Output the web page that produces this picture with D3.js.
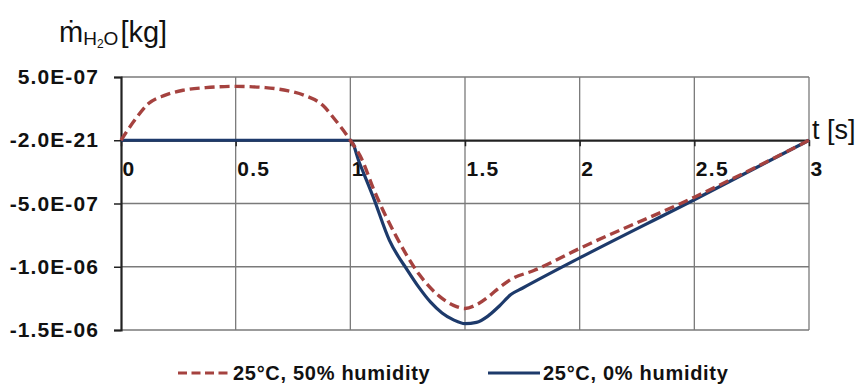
<!DOCTYPE html>
<html>
<head>
<meta charset="utf-8">
<script src="https://cdn.jsdelivr.net/npm/d3@7"></script>
<style>
body{margin:0;background:#fff;}
text{font-family:"Liberation Sans",Arial,sans-serif;}
</style>
</head>
<body>
<div id="chart-area"></div>
<script>
// ----- data -----
let xTicks=[0,0.5,1,1.5,2,2.5,3];
let xTickLabels=["0","0.5","1","1.5","2","2.5","3"];
let yTicks=[5e-7,0,-5e-7,-1e-6,-1.5e-6];
let yTickLabels=["5.0E-07","-2.0E-21","-5.0E-07","-1.0E-06","-1.5E-06"];

let humidT=[0,0.06,0.12,0.19,0.27,0.37,0.5,0.63,0.73,0.8,0.88,0.93,1.0,1.05,1.1,1.2,1.3,1.4,1.45,1.5,1.55,1.6,1.65,1.7,1.8,2.0,2.5,3.0];
let humidV=[0,1.6e-7,2.9e-7,3.55e-7,3.95e-7,4.16e-7,4.26e-7,4.16e-7,3.9e-7,3.55e-7,2.76e-7,1.7e-7,0,-1.5e-7,-3.8e-7,-7.6e-7,-1.06e-6,-1.25e-6,-1.305e-6,-1.33e-6,-1.30e-6,-1.24e-6,-1.165e-6,-1.10e-6,-1.03e-6,-8.55e-7,-4.5e-7,0];

let dryT=[0,1.0,1.04,1.1,1.17,1.25,1.3,1.35,1.4,1.45,1.5,1.55,1.6,1.65,1.7,1.75,2.0,2.5,3.0];
let dryV=[0,0,-1.8e-7,-4.5e-7,-7.9e-7,-1.03e-6,-1.165e-6,-1.28e-6,-1.365e-6,-1.42e-6,-1.45e-6,-1.44e-6,-1.39e-6,-1.31e-6,-1.22e-6,-1.17e-6,-9.3e-7,-4.7e-7,0];

let seriesNames=["25°C, 50% humidity","25°C, 0% humidity"];
let seriesColors=["#A5423F","#1D3A6B"];

// ----- layout -----
let W=862,H=384;
let svg=d3.select("#chart-area").append("svg")
	.attr("width",W)
	.attr("height",H);

let x=d3.scaleLinear().domain([0,3]).range([121,809]);
let y=d3.scaleLinear().domain([-1.5e-6,5e-7]).range([330,77]);

// grid
let grid=svg.append("g");
grid.selectAll(".hg").data(yTicks).enter().append("line")
	.attr("x1",x(0)).attr("x2",x(3))
	.attr("y1",d=>y(d)).attr("y2",d=>y(d))
	.attr("stroke","#7a7a7a").attr("stroke-width",1.3);
grid.selectAll(".vg").data(xTicks.slice(1)).enter().append("line")
	.attr("x1",d=>x(d)).attr("x2",d=>x(d))
	.attr("y1",y(5e-7)).attr("y2",y(-1.5e-6))
	.attr("stroke","#7a7a7a").attr("stroke-width",1.3);

// y axis
let yAxis=d3.axisLeft(y)
	.tickValues(yTicks)
	.tickFormat((d,i)=>yTickLabels[i])
	.tickSize(7)
	.tickPadding(15);
let yAxisGroup=svg.append("g")
	.attr("transform","translate("+x(0)+",0)")
	.call(yAxis);
yAxisGroup.select(".domain").attr("stroke","#222").attr("stroke-width",2.2);
yAxisGroup.selectAll(".tick line").attr("stroke","#222").attr("stroke-width",1.5);
yAxisGroup.selectAll(".tick text")
	.attr("font-size","21px")
	.attr("font-weight","bold")
	.attr("letter-spacing","1.1px")
	.attr("fill","#111");

// x axis at zero
let xAxis=d3.axisBottom(x)
	.tickValues(xTicks)
	.tickFormat((d,i)=>xTickLabels[i])
	.tickSizeInner(6)
	.tickSizeOuter(0);
let xAxisGroup=svg.append("g")
	.attr("transform","translate(0,"+y(0)+")")
	.call(xAxis);
xAxisGroup.select(".domain").attr("stroke","#222").attr("stroke-width",2);
xAxisGroup.selectAll(".tick line").attr("stroke","#222").attr("stroke-width",1.5);
xAxisGroup.selectAll(".tick text")
	.attr("text-anchor","start")
	.attr("x",1)
	.attr("y",36)
	.attr("dy",0)
	.attr("font-size","21px")
	.attr("font-weight","bold")
	.attr("letter-spacing","1.3px")
	.attr("fill","#111");

// ----- lines -----
let line=d3.line()
	.x(d=>x(d[0]))
	.y(d=>y(d[1]))
	.curve(d3.curveMonotoneX);

let humidData=humidT.map((t,i)=>[t,humidV[i]]);
let dryData=dryT.map((t,i)=>[t,dryV[i]]);

svg.append("path")
	.datum(dryData)
	.attr("d",line)
	.attr("fill","none")
	.attr("stroke",seriesColors[1])
	.attr("stroke-width",3.2);

svg.append("path")
	.datum(humidData)
	.attr("d",line)
	.attr("fill","none")
	.attr("stroke",seriesColors[0])
	.attr("stroke-width",3.4)
	.attr("stroke-dasharray","10,5");

// ----- titles -----
let yTitle=svg.append("text")
	.attr("x",59)
	.attr("y",42)
	.attr("font-size","29px")
	.attr("fill","#111");
yTitle.append("tspan").text("ṁ");
yTitle.append("tspan").attr("font-size","19px").attr("dy",3).text("H");
yTitle.append("tspan").attr("font-size","12px").attr("dy",3).text("2");
yTitle.append("tspan").attr("font-size","19px").attr("dy",-3).text("O");
yTitle.append("tspan").attr("dy",-3).attr("dx",2).text("[kg]");

svg.append("text")
	.attr("x",812)
	.attr("y",139)
	.attr("font-size","27px")
	.attr("fill","#111")
	.text("t [s]");

// ----- legend -----
let legend=svg.append("g");
let legendX=[178,488];
seriesNames.forEach(function(name,i){
	let row=legend.append("g")
		.attr("transform","translate("+legendX[i]+",373)");
	row.append("line")
		.attr("x1",0).attr("x2",52)
		.attr("y1",0).attr("y2",0)
		.attr("stroke",seriesColors[i])
		.attr("stroke-width",3.2)
		.attr("stroke-dasharray",i==0?"9,4.5":null);
	row.append("text")
		.attr("x",55)
		.attr("y",7)
		.attr("font-size","20px")
		.attr("font-weight","bold")
		.attr("letter-spacing","0.7px")
		.attr("fill","#111")
		.text(name);
});
</script>
</body>
</html>
